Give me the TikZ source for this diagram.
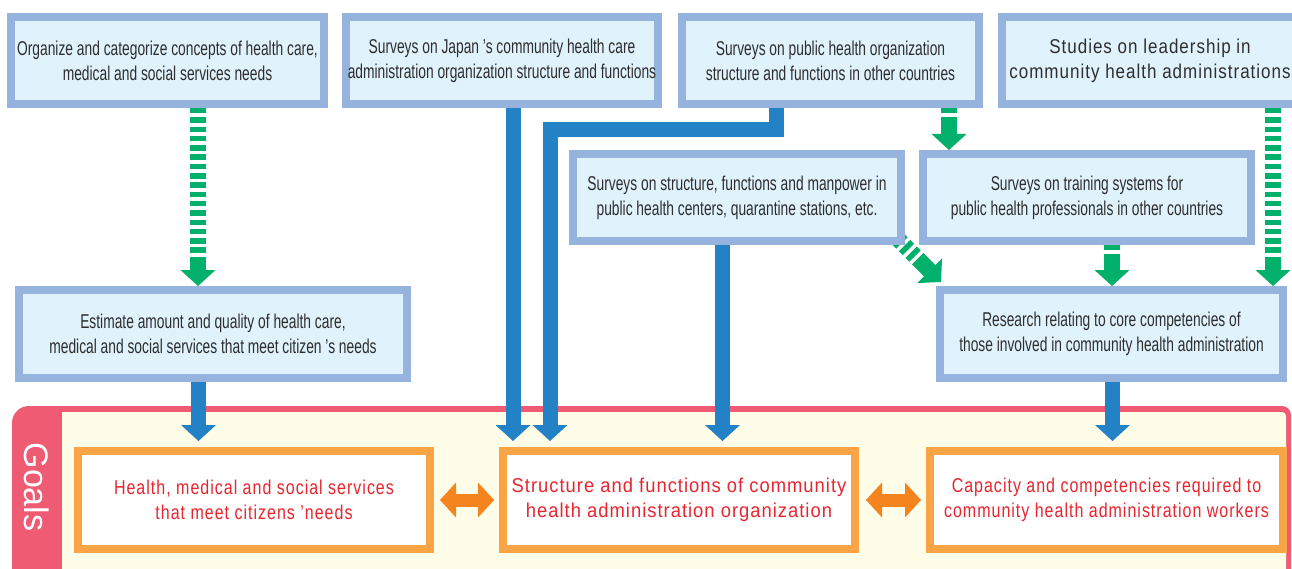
\documentclass[tikz,border=0pt]{standalone}
\usepackage{fontspec}
\setmainfont{Liberation Sans}
\newfontfamily\condfont[FakeStretch=0.69]{Liberation Sans}
\newfontfamily\spacedfont[FakeStretch=0.8,LetterSpace=5]{Liberation Sans}
\newfontfamily\widespacedfont[FakeStretch=0.92,LetterSpace=5]{Liberation Sans}
\newfontfamily\leadfont[FakeStretch=0.85,LetterSpace=5]{Liberation Sans}
\usetikzlibrary{arrows.meta,calc}
\definecolor{boxborder}{HTML}{95B3DC}
\definecolor{boxfill}{HTML}{E0F2FC}
\definecolor{boxtext}{HTML}{2E2E2E}
\definecolor{arrowblue}{HTML}{2382C6}
\definecolor{arrowgreen}{HTML}{00B06B}
\definecolor{goalred}{HTML}{EF5B72}
\definecolor{goalfill}{HTML}{FFFCE8}
\definecolor{goalborder}{HTML}{F9A546}
\definecolor{goaltext}{HTML}{E8252F}
\definecolor{dblorange}{HTML}{F5841F}
\pgfdeclarelayer{back}
\pgfdeclarelayer{mid}
\pgfsetlayers{back,mid,main}
\tikzset{
  rbox/.style={draw=boxborder, fill=boxfill, line width=8pt, text=boxtext, align=center,
    font=\condfont\fontsize{20}{25}\selectfont, inner sep=0pt, minimum height=87pt},
  gbox/.style={draw=goalborder, fill=white, line width=8pt, text=goaltext, align=center,
    font=\spacedfont\fontsize{20}{25}\selectfont, inner sep=0pt, minimum width=352pt, minimum height=98pt},
  bluearrow/.style={draw=arrowblue, line width=15pt, line join=miter,
    -{Triangle[width=35pt,length=16pt,line width=0pt]}},
  greendash/.style={draw=arrowgreen, line width=16pt, dash pattern=on 5.5pt off 3.8pt},
  greensolid/.style={draw=arrowgreen, line width=16pt, -{Triangle[width=35pt,length=16pt,line width=0pt]}},
  dblarrow/.style={draw=dblorange, line width=13pt,
    {Triangle[width=35pt,length=16pt,line width=0pt]}-{Triangle[width=35pt,length=16pt,line width=0pt]}},
}
\newcommand\greenarrow[2]{%
  \draw[greendash] (#1) -- ($(#2)!27pt!(#1)$);
  \draw[greensolid] ($(#2)!28pt!(#1)$) -- (#2);}
\begin{document}
\begin{tikzpicture}[x=1pt,y=-1pt]
\useasboundingbox (0,0) rectangle (1292,569);
% goals panel
\begin{pgfonlayer}{back}
\fill[goalred, rounded corners=17pt] (12,620) -- (12,406) -- (150,406) -- (150,620) -- cycle;
\fill[goalred, rounded corners=9pt] (100,406) -- (1291,406) -- (1291,620) -- (100,620) -- cycle;
\fill[goalfill] (62,620) -- (62,412) [rounded corners=4pt] -- (1286,412) -- (1286,620) -- cycle;
\end{pgfonlayer}
% research boxes
\node[rbox, minimum width=313pt] (b1) at (167.5,60.5) {Organize and categorize concepts of health care,\\medical and social services needs};
\node[rbox, minimum width=312pt] (b2) at (502,60.5) {Surveys on Japan ’s community health care\\administration organization structure and functions};
\node[rbox, minimum width=297pt] (b3) at (830.5,60.5) {Surveys on public health organization\\structure and functions in other countries};
\node[rbox, minimum width=296pt, font=\leadfont\fontsize{20}{25}\selectfont] (b4) at (1150,60.5) {Studies on leadership in\\community health administrations};
\node[rbox, minimum width=328pt] (b5) at (737,197.5) {Surveys on structure, functions and manpower in\\public health centers, quarantine stations, etc.};
\node[rbox, minimum width=328pt] (b6) at (1087,197.5) {Surveys on training systems for\\public health professionals in other countries};
\node[rbox, minimum width=388pt, minimum height=88pt] (b7) at (213,334) {Estimate amount and quality of health care,\\medical and social services that meet citizen ’s needs};
\node[rbox, minimum width=343pt, minimum height=88pt] (b8) at (1111.5,334) {Research relating to core competencies of\\those involved in community health administration};
% goal boxes
\node[rotate=-90, text=white, font=\fontsize{34}{34}\selectfont, inner sep=0pt] (goals) at (37,487) {Goals};
\node[gbox] (g1) at (254,500) {Health, medical and social services\\that meet citizens ’needs};
\node[gbox, font=\widespacedfont\fontsize{20}{25}\selectfont] (g2) at (679,500) {Structure and functions of community\\health administration organization};
\node[gbox, minimum width=353pt] (g3) at (1106.5,500) {Capacity and competencies required to\\community health administration workers};
% connectors
\coordinate (s1) at ([xshift=30.5pt]b1.south);
\coordinate (e1) at ([xshift=-15pt]b7.north);
\coordinate (s2) at ([xshift=118.5pt]b3.south);
\coordinate (e2) at ([xshift=-138pt]b6.north);
\coordinate (s3) at ([xshift=123pt]b4.south);
\coordinate (e3) at ([xshift=161.5pt]b8.north);
\coordinate (s4) at ([xshift=25pt]b6.south);
\coordinate (e4) at ([xshift=0.5pt]b8.north);
\coordinate (s5) at ([xshift=-7pt,yshift=6pt]b5.south east);
\coordinate (e5) at ([xshift=5pt,yshift=4pt]b8.north west);
\begin{pgfonlayer}{mid}
\greenarrow{s1}{e1}
\greenarrow{s2}{e2}
\greenarrow{s3}{e3}
\greenarrow{s4}{e4}
\greenarrow{s5}{e5}
\draw[bluearrow] ([xshift=-14.5pt]b7.south) -- ([xshift=-55.5pt,yshift=6pt]g1.north);
\draw[bluearrow] ([xshift=11pt]b2.south) -- ([xshift=-166pt,yshift=6pt]g2.north);
\draw[bluearrow] ([xshift=-54pt]b3.south) -- ++(0,21.5) -| ([xshift=-129pt,yshift=6pt]g2.north);
\draw[bluearrow] ([xshift=-14.5pt]b5.south) -- ([xshift=43.5pt,yshift=6pt]g2.north);
\draw[bluearrow] ([xshift=1pt]b8.south) -- ([xshift=6pt,yshift=6pt]g3.north);
\draw[dblarrow] ([xshift=6pt]g1.east) -- ([xshift=-5pt]g2.west);
\draw[dblarrow] ([xshift=7pt]g2.east) -- ([xshift=-5pt]g3.west);
\end{pgfonlayer}
\end{tikzpicture}
\end{document}
